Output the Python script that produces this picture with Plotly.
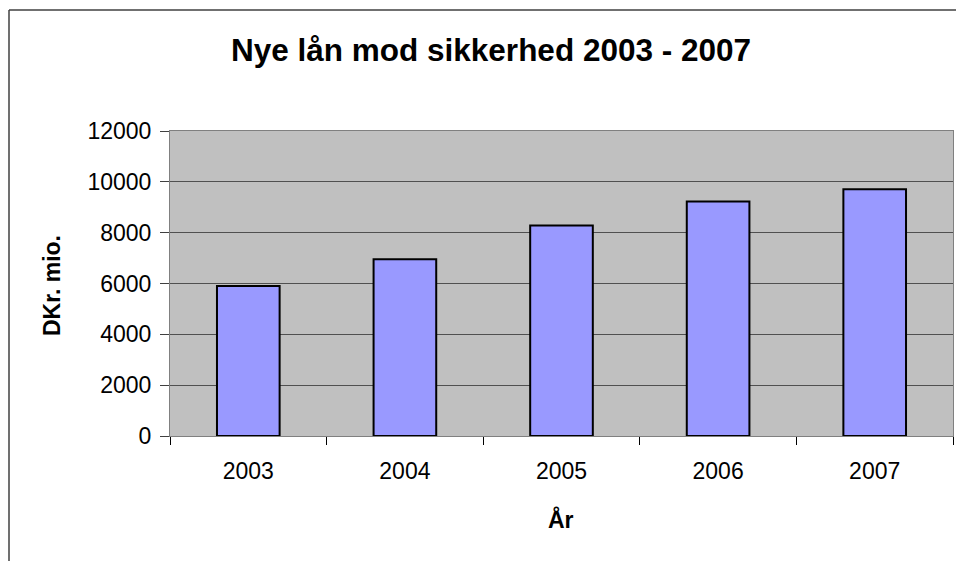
import plotly.graph_objects as go

years = ["2003", "2004", "2005", "2006", "2007"]
values = [5900, 6950, 8280, 9230, 9710]
y_ticks = [0, 2000, 4000, 6000, 8000, 10000, 12000]

W, H = 956, 561
L, R, T, B = 170, 3, 131, 125
pw, ph = W - L - R, H - T - B

def px(x):
    return (x - L) / pw

def py(y):
    return (H - B - y) / ph

fig = go.Figure(go.Bar(
    x=years, y=values,
    marker=dict(color="#9999FF", line=dict(color="#000000", width=2)),
    width=0.4,
))

font = "Liberation Sans, Arial, sans-serif"
fig.update_layout(
    width=W, height=H,
    margin=dict(l=L, r=R, t=T, b=B),
    paper_bgcolor="white",
    plot_bgcolor="#C0C0C0",
    showlegend=False,
    font=dict(family=font, color="black"),
    xaxis=dict(
        type="category",
        tickson="boundaries",
        ticks="outside", ticklen=8, tickcolor="black",
        tickfont=dict(size=23),
        ticklabelstandoff=14,
        showline=True, linecolor="#808080", mirror=True,
        showgrid=False,
    ),
    yaxis=dict(
        range=[0, 12000], tickvals=y_ticks, tickformat="d",
        ticks="outside", ticklen=9, tickcolor="#404040",
        tickfont=dict(size=23),
        showline=True, linecolor="#808080", mirror=True,
        showgrid=True, gridcolor="#505050", gridwidth=1,
        zeroline=False,
        ticklabelstandoff=4,
    ),
    annotations=[
        dict(text="<b>Nye lån mod sikkerhed 2003 - 2007</b>", x=px(491), y=py(50),
             xref="paper", yref="paper", showarrow=False, font=dict(size=31.5),
             xanchor="center", yanchor="middle"),
        dict(text="<b>DKr. mio.</b>", x=px(52), y=py(286), textangle=-90,
             xref="paper", yref="paper", showarrow=False, font=dict(size=23),
             xanchor="center", yanchor="middle"),
        dict(text="<b>År</b>", x=px(561), y=py(519),
             xref="paper", yref="paper", showarrow=False, font=dict(size=23),
             xanchor="center", yanchor="middle"),
    ],
    shapes=[
        dict(type="line", xref="paper", yref="paper", x0=px(9), x1=px(9), y0=py(10), y1=py(600),
             line=dict(color="#404040", width=1.5)),
        dict(type="line", xref="paper", yref="paper", x0=px(9), x1=px(1000), y0=py(10), y1=py(10),
             line=dict(color="#404040", width=1.5)),
    ],
)

fig.write_html("out.html", config={"displayModeBar": False},
               post_script="document.body.style.margin='0';document.body.style.overflow='hidden';")
